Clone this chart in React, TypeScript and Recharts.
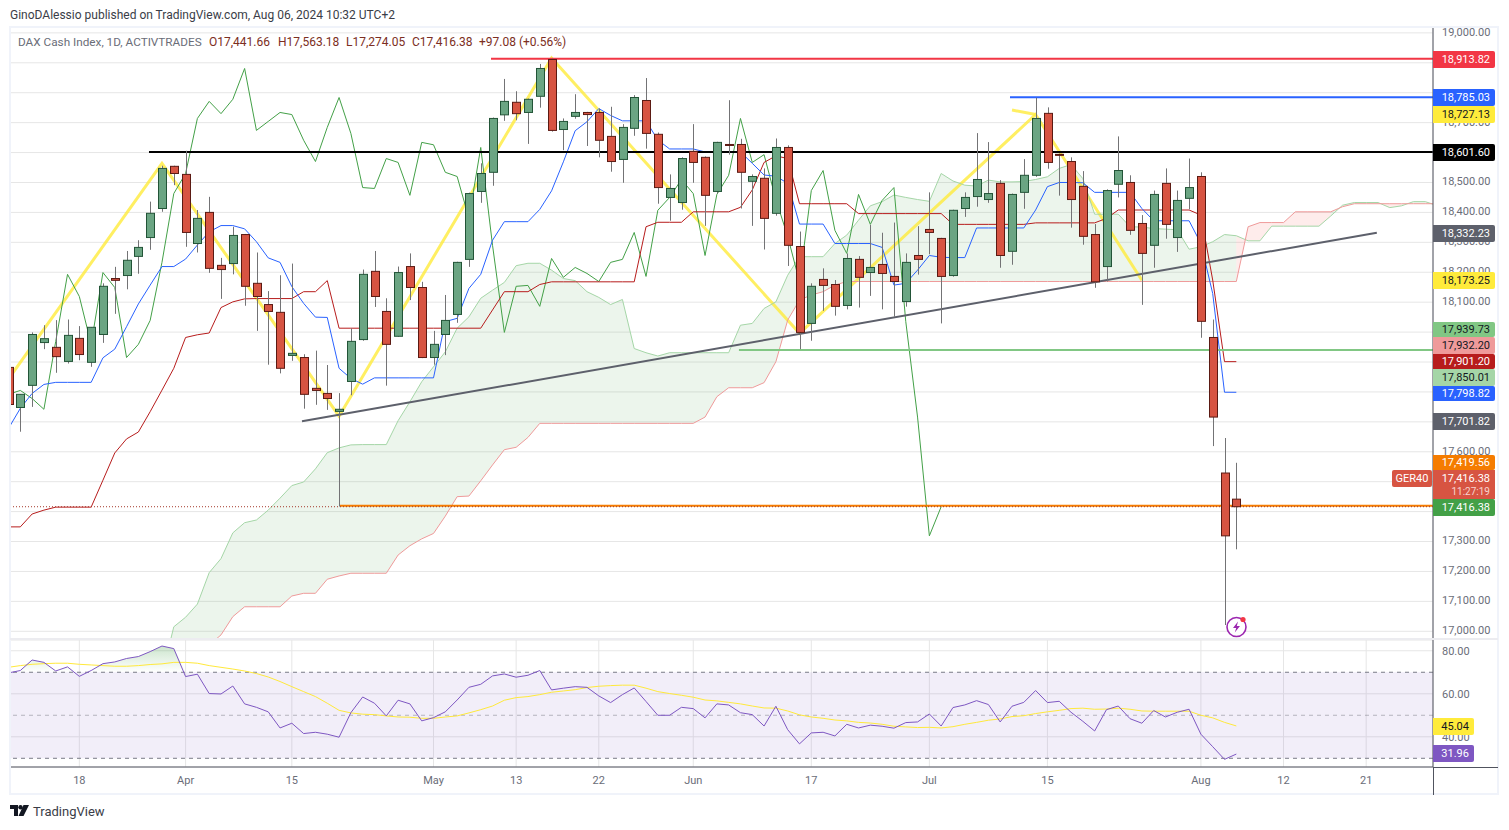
import React from "react";
import { ComposedChart, Bar, Line, Area, XAxis, YAxis, CartesianGrid, ReferenceLine, ReferenceArea } from "recharts";

// daily candles, first one is cut off by the left edge of the pane
const opens = [17882, 17748, 17822, 17965, 17949, 17902, 17979, 17899, 17992, 18179, 18189, 18253, 18316, 18413, 18554, 18527, 18296, 18400, 18223, 18229, 18326, 18163, 18092, 18066, 17922, 17915, 17812, 17795, 17735, 17835, 17975, 18203, 18069, 17986, 18219, 18149, 17915, 17992, 18059, 18243, 18470, 18534, 18726, 18768, 18734, 18788, 18911, 18677, 18721, 18734, 18734, 18654, 18577, 18681, 18774, 18661, 18450, 18433, 18604, 18584, 18470, 18627, 18627, 18504, 18514, 18397, 18617, 18286, 18029, 18176, 18159, 18089, 18243, 18199, 18226, 18186, 18102, 18256, 18343, 18313, 18189, 18413, 18453, 18443, 18497, 18270, 18467, 18524, 18731, 18594, 18570, 18487, 18326, 18219, 18494, 18500, 18363, 18290, 18497, 18316, 18447, 18520, 17982, 17529, 17441.66];
const highs = [17884, 17792, 17999, 18023, 18040, 18042, 18020, 18016, 18163, 18218, 18271, 18307, 18436, 18556, 18556, 18606, 18408, 18452, 18248, 18352, 18328, 18266, 18137, 18190, 18229, 17926, 17938, 17890, 17796, 18012, 18209, 18271, 18113, 18219, 18263, 18168, 18004, 18124, 18235, 18466, 18564, 18717, 18846, 18805, 18780, 18896, 18914, 18714, 18795, 18736, 18747, 18753, 18695, 18792, 18849, 18667, 18527, 18584, 18695, 18587, 18636, 18775, 18646, 18527, 18547, 18647, 18624, 18336, 18163, 18213, 18174, 18263, 18254, 18358, 18332, 18366, 18263, 18354, 18467, 18315, 18409, 18467, 18665, 18635, 18508, 18463, 18578, 18783, 18751, 18596, 18584, 18538, 18361, 18477, 18654, 18524, 18391, 18473, 18547, 18473, 18580, 18534, 18042, 17646, 17563.18];
const lows = [17752, 17667, 17750, 17943, 17864, 17895, 17906, 17884, 17964, 18061, 18143, 18195, 18275, 18402, 18491, 18285, 18266, 18198, 18111, 18193, 18088, 18004, 17891, 17862, 17904, 17744, 17757, 17740, 17417, 17789, 17971, 18084, 17821, 17984, 18107, 17913, 17891, 17923, 18031, 18218, 18432, 18489, 18706, 18708, 18629, 18750, 18670, 18608, 18713, 18622, 18584, 18536, 18499, 18656, 18613, 18429, 18372, 18409, 18499, 18355, 18463, 18593, 18413, 18355, 18276, 18389, 18221, 17943, 17971, 18071, 18055, 18076, 18082, 18121, 18076, 18051, 18085, 18192, 18260, 18029, 18185, 18385, 18419, 18432, 18215, 18225, 18412, 18519, 18546, 18456, 18349, 18292, 18148, 18169, 18450, 18325, 18091, 18215, 18312, 18268, 18410, 17981, 17619, 17021, 17274.05];
const closes = [17758, 17792, 17992, 17978, 17918, 17989, 17925, 18016, 18153, 18173, 18240, 18283, 18397, 18547, 18530, 18333, 18380, 18213, 18209, 18323, 18153, 18119, 18069, 17879, 17929, 17792, 17805, 17778, 17742, 17969, 18193, 18119, 17959, 18199, 18149, 17915, 17959, 18039, 18233, 18463, 18530, 18714, 18771, 18730, 18778, 18881, 18674, 18704, 18734, 18727, 18641, 18570, 18684, 18784, 18664, 18483, 18480, 18580, 18567, 18457, 18634, 18626, 18534, 18520, 18380, 18617, 18290, 17999, 18153, 18156, 18086, 18246, 18183, 18216, 18196, 18169, 18233, 18243, 18333, 18186, 18407, 18450, 18510, 18463, 18256, 18460, 18524, 18714, 18567, 18593, 18443, 18320, 18168, 18473, 18540, 18340, 18263, 18460, 18360, 18440, 18483, 18036, 17716, 17319, 17416.38];

const tenkan = [17678, 17745, 17795, 17825, 17832, 17832, 17832, 17832, 17914, 17943, 18018, 18094, 18157, 18219, 18219, 18244, 18291, 18335, 18356, 18356, 18345, 18302, 18248, 18233, 18152, 18096, 18050, 18049, 17879, 17845, 17826, 17847, 17847, 17847, 17847, 17847, 17847, 18035, 18046, 18146, 18193, 18307, 18369, 18369, 18369, 18410, 18472, 18569, 18673, 18703, 18747, 18724, 18706, 18706, 18706, 18642, 18612, 18612, 18612, 18602, 18602, 18602, 18602, 18564, 18525, 18521, 18497, 18361, 18361, 18361, 18296, 18296, 18296, 18296, 18283, 18157, 18163, 18207, 18256, 18250, 18249, 18249, 18348, 18348, 18348, 18348, 18348, 18408, 18486, 18500, 18500, 18499, 18467, 18467, 18467, 18467, 18413, 18372, 18372, 18372, 18372, 18296, 18129, 17799, 17798.82];
const kijun = [17349, 17349, 17392, 17405, 17415, 17415, 17415, 17415, 17505, 17596, 17643, 17666, 17734, 17806, 17879, 17982, 17991, 17997, 18082, 18101, 18111, 18112, 18112, 18112, 18112, 18135, 18135, 18172, 18013, 18013, 18013, 18013, 18013, 18013, 18013, 18013, 18013, 18013, 18013, 18013, 18013, 18074, 18135, 18135, 18135, 18159, 18168, 18168, 18168, 18168, 18168, 18168, 18168, 18168, 18352, 18367, 18367, 18367, 18402, 18402, 18402, 18402, 18417, 18475, 18567, 18589, 18580, 18429, 18429, 18429, 18429, 18429, 18396, 18396, 18396, 18396, 18396, 18396, 18396, 18396, 18360, 18360, 18360, 18360, 18360, 18360, 18360, 18365, 18365, 18365, 18365, 18365, 18365, 18380, 18408, 18408, 18408, 18408, 18408, 18408, 18408, 18391, 18174, 17901.2, 17901.2];

// cloud, projected past the last candle, both spans start at slot 13
const cloudStart = 13;
const spanA = [16854, 17015, 17047, 17091, 17196, 17243, 17329, 17363, 17372, 17405, 17445, 17487, 17499, 17543, 17597, 17613, 17623, 17624, 17624, 17624, 17704, 17767, 17834, 17884, 17934, 18013, 18051, 18113, 18140, 18166, 18222, 18230, 18230, 18207, 18179, 18172, 18135, 18116, 18092, 18109, 17945, 17931, 17920, 17931, 17931, 17931, 17931, 17931, 17931, 18023, 18029, 18079, 18101, 18190, 18252, 18252, 18252, 18296, 18324, 18374, 18422, 18436, 18458, 18450, 18443, 18437, 18530, 18505, 18491, 18488, 18508, 18502, 18502, 18503, 18510, 18519, 18547, 18560, 18513, 18394, 18394, 18394, 18352, 18351, 18346, 18344, 18342, 18277, 18285, 18302, 18326, 18322, 18305, 18305, 18354, 18354, 18354, 18354, 18354, 18388, 18424, 18433, 18433, 18433, 18416, 18422, 18436, 18436, 18423];
const spanB = [16700, 16760, 16830, 16900, 16954, 16988, 17049, 17082, 17082, 17082, 17082, 17118, 17127, 17127, 17174, 17185, 17194, 17194, 17194, 17194, 17255, 17286, 17309, 17327, 17385, 17450, 17452, 17503, 17556, 17607, 17615, 17648, 17695, 17695, 17695, 17695, 17695, 17695, 17695, 17695, 17695, 17695, 17695, 17695, 17695, 17695, 17716, 17784, 17814, 17814, 17814, 17831, 17901, 18040, 18107, 18124, 18135, 18157, 18169, 18169, 18169, 18169, 18169, 18169, 18169, 18169, 18169, 18169, 18169, 18169, 18169, 18169, 18169, 18169, 18169, 18169, 18169, 18169, 18169, 18169, 18169, 18169, 18169, 18169, 18169, 18169, 18169, 18169, 18169, 18169, 18169, 18169, 18352, 18366, 18366, 18366, 18402, 18402, 18402, 18402, 18419, 18429, 18429, 18429, 18429, 18429, 18429, 18429, 18429];

const rsi = [69.7, 70.8, 75.7, 74.6, 70.6, 72.5, 68.1, 70.8, 74.0, 74.8, 76.4, 77.3, 79.6, 82.2, 81.0, 68.0, 69.1, 60.1, 59.9, 63.6, 55.3, 53.7, 51.6, 44.1, 46.3, 41.5, 42.1, 41.2, 39.8, 51.2, 58.5, 55.6, 49.7, 57.0, 55.3, 47.4, 48.9, 51.6, 57.1, 63.0, 64.4, 68.3, 69.2, 67.7, 68.6, 70.8, 61.8, 62.6, 63.3, 63.0, 59.0, 55.9, 59.6, 62.7, 56.4, 50.0, 50.0, 53.7, 53.1, 48.8, 55.3, 54.8, 51.2, 50.3, 45.0, 54.2, 43.3, 36.7, 41.8, 42.1, 40.4, 45.8, 44.1, 45.4, 44.9, 44.0, 46.6, 46.9, 50.6, 45.0, 53.6, 54.8, 56.8, 55.0, 46.9, 54.2, 56.0, 61.5, 55.9, 56.5, 51.4, 47.2, 42.7, 52.6, 54.3, 48.4, 46.3, 52.2, 49.2, 51.4, 52.8, 41.2, 35.4, 29.5, 31.96];
const rsiMa = [72.3, 73.1, 73.7, 74.0, 74.2, 74.2, 73.7, 73.4, 73.1, 72.8, 72.8, 73.1, 73.6, 73.9, 74.6, 74.6, 74.2, 73.1, 72.3, 71.5, 70.6, 69.4, 67.8, 65.7, 63.3, 61.0, 58.7, 55.6, 52.3, 51.1, 50.5, 50.3, 49.7, 49.2, 49.1, 48.6, 48.6, 49.2, 49.7, 51.1, 52.6, 54.3, 57.0, 58.2, 58.7, 59.6, 60.7, 61.3, 61.9, 62.9, 63.5, 63.8, 64.0, 64.0, 62.6, 61.0, 60.1, 59.3, 58.4, 57.1, 56.7, 56.0, 55.3, 54.3, 53.4, 53.3, 52.0, 50.2, 49.2, 48.6, 47.8, 47.4, 46.7, 46.4, 45.8, 44.9, 44.6, 44.3, 44.4, 44.1, 44.7, 45.8, 46.7, 47.7, 48.3, 49.4, 49.8, 50.8, 51.6, 52.3, 53.1, 53.3, 52.8, 52.9, 53.3, 52.8, 52.0, 51.9, 51.9, 51.9, 51.9, 50.0, 48.8, 46.7, 45.04];

// drawn zigzag, slot and price of each pivot
const zigSlots = [0, 13, 28, 46, 67, 87, 96];
const zigPrices = [17843, 18564, 17719, 18916, 17996, 18727.13, 18173.25];

const tickSlots = [6, 15, 24, 36, 43, 50, 58, 68, 78, 88, 101, 108, 115];
const tickLabels = ["18", "Apr", "15", "May", "13", "22", "Jun", "17", "Jul", "15", "Aug", "12", "21"];
const priceTicks = [17000, 17100, 17200, 17300, 17400, 17500, 17600, 17700, 17800, 17900, 18000, 18100, 18200, 18300, 18400, 18500, 18600, 18700, 18800, 18900, 19000];
// these sit fully under a price tag, only their gridline shows
const coveredTicks = [17400, 17500, 17700, 17800, 17900, 18000, 18600, 18800, 18900];
const rsiTicks = [40, 60, 80];

const legendParts = [
  { left: 209, text: "O17,441.66" },
  { left: 278, text: "H17,563.18" },
  { left: 346, text: "L17,274.05" },
  { left: 412, text: "C17,416.38" },
  { left: 479, text: "+97.08 (+0.56%)" },
];

// price tags on the right, TradingView stacks them so they don't overlap
const tags = [
  { text: "18,913.82", bg: "#f23645", fg: "#fff", top: 51, h: 17 },
  { text: "18,785.03", bg: "#2962ff", fg: "#fff", top: 89, h: 17 },
  { text: "18,727.13", bg: "#ffeb3b", fg: "#131722", top: 106, h: 17 },
  { text: "18,601.60", bg: "#000000", fg: "#fff", top: 144, h: 17 },
  { text: "18,332.23", bg: "#5d606b", fg: "#fff", top: 225, h: 17 },
  { text: "18,173.25", bg: "#ffeb3b", fg: "#131722", top: 272, h: 17 },
  { text: "17,939.73", bg: "#81c784", fg: "#131722", top: 322, h: 15 },
  { text: "17,932.20", bg: "#ef9a9a", fg: "#131722", top: 337, h: 17 },
  { text: "17,901.20", bg: "#b71c1c", fg: "#fff", top: 354, h: 15 },
  { text: "17,850.01", bg: "#a5d6a7", fg: "#131722", top: 369, h: 17 },
  { text: "17,798.82", bg: "#2962ff", fg: "#fff", top: 386, h: 15 },
  { text: "17,701.82", bg: "#5d606b", fg: "#fff", top: 413, h: 17 },
  { text: "17,419.56", bg: "#f57c00", fg: "#fff", top: 455, h: 15 },
  { text: "17,416.38", bg: "#43a047", fg: "#fff", top: 499, h: 17 },
];

const UP = "#6ba583";
const DOWN = "#d75442";
const FONT = "Roboto, sans-serif";
const GRID = "#e6e6e6";
const AXIS = "#50535e";

const price = (v: number) =>
  coveredTicks.includes(v) ? "" : v.toLocaleString("en-US", { minimumFractionDigits: 2, maximumFractionDigits: 2 });

const rows = Array.from({ length: 122 }, (_, slot) => {
  const a = spanA[slot - cloudStart] ?? null;
  const b = spanB[slot - cloudStart] ?? null;
  const a2 = spanA[slot + 1 - cloudStart] ?? null;
  const b2 = spanB[slot + 1 - cloudStart] ?? null;
  const hasCloud = a !== null && b !== null;
  const zig = zigSlots.indexOf(slot);
  const r = rsi[slot] ?? null;
  return {
    slot,
    open: opens[slot] ?? null,
    close: closes[slot] ?? null,
    range: slot < opens.length ? [lows[slot], highs[slot]] : null,
    tenkan: tenkan[slot] ?? null,
    kijun: kijun[slot] ?? null,
    lagging: closes[slot + 25] ?? null,
    spanA: a,
    spanB: b,
    cloudUp: hasCloud && (a >= b || (a2 !== null && a2 >= b2)) ? [b, a] : null,
    cloudDown: hasCloud && (a < b || (a2 !== null && a2 < b2)) ? [a, b] : null,
    zigzag: zig >= 0 ? zigPrices[zig] : null,
    flag: slot === 85 ? 18742 : slot === 87 ? 18727 : null,
    rsi: r,
    rsiMa: rsiMa[slot] ?? null,
    overbought: r === null ? null : [70, Math.max(70, r)],
  };
});

const Candle = (props: any) => {
  const { x, y, width, height, payload } = props;
  if (payload.open === null || !height) return null;
  const [low, high] = payload.range;
  const k = height / (high - low);
  const isUp = payload.close >= payload.open;
  const top = y + (high - Math.max(payload.open, payload.close)) * k;
  const bodyH = Math.max(1, Math.abs(payload.open - payload.close) * k);
  const mid = Math.round(x + width / 2) + 0.5;
  return (
    <g>
      <line x1={mid} x2={mid} y1={y} y2={y + height} stroke="#737375" strokeWidth={1} />
      <rect
        x={mid - width / 2}
        y={top}
        width={width}
        height={bodyH}
        fill={isUp ? UP : DOWN}
        stroke={isUp ? "#225437" : "#5b1a13"}
        strokeWidth={1}
      />
    </g>
  );
};

const xDomain: [number, number] = [0.127, 120.66];
const tickStyle = { fill: "#6a6d78", fontSize: 11, fontFamily: FONT };

function Tag({ text, bg, fg, top, h, left = 1433, w = 62 }: any) {
  return (
    <div
      style={{
        position: "absolute",
        left,
        top,
        width: w,
        height: h,
        background: bg,
        color: fg,
        font: `11px ${FONT}`,
        lineHeight: `${h}px`,
        textAlign: "right",
        paddingRight: 5,
        boxSizing: "border-box",
        borderRadius: "0 2px 2px 0",
      }}
    >
      {text}
    </div>
  );
}

export default function App() {
  return (
    <div style={{ position: "absolute", left: 0, top: 0, width: 1509, height: 830, background: "#fff", overflow: "hidden", fontFamily: FONT }}>
      <div style={{ position: "absolute", left: 10, top: 8, fontSize: 12, color: "#3a3d47", whiteSpace: "nowrap" }}>
        GinoDAlessio published on TradingView.com, Aug 06, 2024 10:32 UTC+2
      </div>

      <div style={{ position: "absolute", left: 0, top: 27 }}>
        <ComposedChart width={1509} height={612} data={rows} margin={{ top: 0, right: 0, bottom: 0, left: 10 }}>
          <CartesianGrid stroke={GRID} />
          <XAxis dataKey="slot" type="number" domain={xDomain} allowDataOverflow ticks={tickSlots} height={0} tick={false} axisLine={false} tickLine={false} />
          <YAxis
            orientation="right"
            width={76}
            type="number"
            domain={[16974.3, 19019.6]}
            allowDataOverflow
            ticks={priceTicks}
            interval={0}
            tickFormatter={price}
            tick={{ ...tickStyle, dy: -1 }}
            tickLine={false}
            tickMargin={3}
            axisLine={{ stroke: AXIS }}
          />
          <Area dataKey="cloudUp" stroke="none" fill="#43a047" fillOpacity={0.1} isAnimationActive={false} />
          <Area dataKey="cloudDown" stroke="none" fill="#f44336" fillOpacity={0.1} isAnimationActive={false} />
          <Line dataKey="zigzag" stroke="#ffeb3b" strokeOpacity={0.8} strokeWidth={3} dot={false} connectNulls isAnimationActive={false} />
          <Line dataKey="flag" stroke="#ffeb3b" strokeOpacity={0.8} strokeWidth={3} dot={false} connectNulls isAnimationActive={false} />
          <Line dataKey="spanA" stroke="#a5d6a7" strokeWidth={1} dot={false} isAnimationActive={false} />
          <Line dataKey="spanB" stroke="#ef9a9a" strokeWidth={1} dot={false} isAnimationActive={false} />
          <Line dataKey="lagging" stroke="#43a047" strokeWidth={1} dot={false} isAnimationActive={false} />
          <Line dataKey="kijun" stroke="#b71c1c" strokeWidth={1} dot={false} isAnimationActive={false} />
          <Line dataKey="tenkan" stroke="#2962ff" strokeWidth={1} dot={false} isAnimationActive={false} />
          <ReferenceLine segment={[{ x: 40.87, y: 18913.82 }, { x: 120.66, y: 18913.82 }]} stroke="#f23645" strokeWidth={2} />
          <ReferenceLine segment={[{ x: 84.83, y: 18785.03 }, { x: 120.66, y: 18785.03 }]} stroke="#2962ff" strokeWidth={2} />
          <ReferenceLine segment={[{ x: 11.9, y: 18601.6 }, { x: 120.66, y: 18601.6 }]} stroke="#000" strokeWidth={2} />
          <ReferenceLine segment={[{ x: 24.86, y: 17701.82 }, { x: 115.9, y: 18332.23 }]} stroke="#5d606b" strokeWidth={2} />
          <ReferenceLine segment={[{ x: 61.87, y: 17939.73 }, { x: 120.66, y: 17939.73 }]} stroke="#81c784" strokeWidth={2} />
          <ReferenceLine segment={[{ x: 28.08, y: 17419.56 }, { x: 120.66, y: 17419.56 }]} stroke="#f57c00" strokeWidth={2} />
          <ReferenceLine y={17416.38} stroke="#a5392b" strokeWidth={1} strokeDasharray="1 2" />
          <Bar dataKey="range" barSize={8} shape={Candle} zIndex={2000} isAnimationActive={false} />
        </ComposedChart>
      </div>

      <div style={{ position: "absolute", left: 0, top: 640 }}>
        <ComposedChart width={1509} height={155} data={rows} margin={{ top: 0, right: 0, bottom: 0, left: 10 }}>
          <defs>
            <linearGradient id="obFill" x1="0" y1="0" x2="0" y2="1">
              <stop offset="0%" stopColor="#43a047" stopOpacity={0.45} />
              <stop offset="100%" stopColor="#43a047" stopOpacity={0} />
            </linearGradient>
          </defs>
          <CartesianGrid stroke={GRID} />
          <XAxis
            dataKey="slot"
            type="number"
            domain={xDomain}
            allowDataOverflow
            ticks={tickSlots}
            interval={0}
            height={28}
            tickFormatter={(v: number) => tickLabels[tickSlots.indexOf(v)]}
            tick={tickStyle}
            tickLine={false}
            tickMargin={3}
            axisLine={{ stroke: AXIS }}
          />
          <YAxis
            orientation="right"
            width={76}
            type="number"
            domain={[25.95, 85]}
            allowDataOverflow
            ticks={rsiTicks}
            interval={0}
            tickFormatter={(v: number) => v.toFixed(2)}
            tick={tickStyle}
            tickLine={false}
            tickMargin={3}
            axisLine={{ stroke: AXIS }}
          />
          <ReferenceArea y1={30} y2={70} fill="#7e57c2" fillOpacity={0.1} stroke="none" />
          <ReferenceLine y={70} stroke="#787b86" strokeDasharray="4 4" />
          <ReferenceLine y={50} stroke="#787b86" strokeOpacity={0.5} strokeDasharray="4 4" />
          <ReferenceLine y={30} stroke="#787b86" strokeDasharray="4 4" />
          <Area dataKey="overbought" stroke="none" fill="url(#obFill)" isAnimationActive={false} />
          <Line dataKey="rsiMa" stroke="#ffe93b" strokeWidth={1} dot={false} isAnimationActive={false} />
          <Line dataKey="rsi" stroke="#7e57c2" strokeWidth={1} dot={false} isAnimationActive={false} />
        </ComposedChart>
      </div>

      {/* frame, pane divider and the rest of the axis lines */}
      <div style={{ position: "absolute", left: 9, top: 26, width: 1490, height: 769, border: "2px solid #f0f3fa", boxSizing: "border-box" }} />
      <div style={{ position: "absolute", left: 10, top: 638, width: 1488, height: 2, background: "#ececf0" }} />
      <div style={{ position: "absolute", left: 1433, top: 767, width: 65, height: 1, background: AXIS }} />
      <div style={{ position: "absolute", left: 1433, top: 767, width: 1, height: 28, background: AXIS }} />

      <div style={{ position: "absolute", left: 18, top: 35, fontSize: 11.75, color: "#6a6d78", whiteSpace: "nowrap" }}>
        DAX Cash Index, 1D, ACTIVTRADES
      </div>
      {legendParts.map((p) => (
        <div key={p.left} style={{ position: "absolute", left: p.left, top: 35, fontSize: 12, color: "#7c2e22", whiteSpace: "nowrap" }}>
          {p.text}
        </div>
      ))}

      {tags.map((t) => (
        <Tag key={t.text + t.top} {...t} />
      ))}
      <div style={{ position: "absolute", left: 1433, top: 470, width: 62, height: 29, background: DOWN, color: "#fff", textAlign: "right", paddingRight: 5, boxSizing: "border-box", font: `11px ${FONT}`, lineHeight: "13px", paddingTop: 2 }}>
        17,416.38
        <br />
        <span style={{ fontSize: 10, color: "#f6d5d0" }}>11:27:19</span>
      </div>
      <div style={{ position: "absolute", left: 1392, top: 470, width: 40, height: 17, background: DOWN, color: "#fff", textAlign: "center", font: `11px ${FONT}`, lineHeight: "17px", borderRadius: 2 }}>
        GER40
      </div>
      <Tag text="45.04" bg="#ffeb3b" fg="#131722" top={718} h={17} w={41} />
      <Tag text="31.96" bg="#7e57c2" fg="#fff" top={745} h={17} w={41} />

      <svg style={{ position: "absolute", left: 1224, top: 614 }} width={26} height={26}>
        <circle cx={12.5} cy={13} r={9.5} fill="#fff" stroke="#9c27b0" strokeWidth={1.6} />
        <path d="M14 7.5 L9 14 L12.2 14 L10.8 18.5 L16 12 L12.8 12 Z" fill="#9c27b0" />
        <circle cx={19} cy={5.5} r={2.6} fill="#f23645" />
      </svg>

      <svg style={{ position: "absolute", left: 10, top: 805 }} width={20} height={13}>
        <path d="M0 0 H8 V11 H4 V4 H0 Z M13.5 0 H19 L13.5 11 H8.5 Z" fill="#131722" />
        <circle cx={10.5} cy={2.3} r={2.2} fill="#131722" />
      </svg>
      <div style={{ position: "absolute", left: 33, top: 804, fontSize: 13, color: "#3a3d47" }}>TradingView</div>
    </div>
  );
}
